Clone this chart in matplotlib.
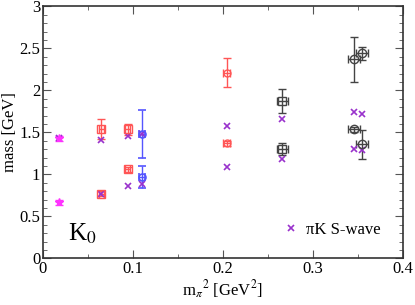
import matplotlib
matplotlib.use("Agg")
import matplotlib.pyplot as plt
from matplotlib.ticker import MultipleLocator, FuncFormatter

plt.rcParams['font.family'] = ['Liberation Serif', 'DejaVu Serif']
plt.rcParams['mathtext.fontset'] = 'stix'

# magenta stars
mag_x = [0.018, 0.018]
mag_y = [1.43, 0.67]
mag_e = [0.03, 0.03]

# red squares
rs_x = [0.065, 0.065, 0.094, 0.094]
rs_y = [1.54, 0.77, 1.535, 1.06]
rs_e = [0.12, 0.03, 0.07, 0.03]

# red circles
rc_x = [0.204, 0.204]
rc_y = [2.21, 1.37]
rc_e = [0.17, 0.03]

# blue circles
b_x = [0.11, 0.11]
b_y = [1.48, 0.97]
b_e = [0.29, 0.13]

# black squares
ks_x = [0.266, 0.266]
ks_y = [1.875, 1.30]
ks_e = [0.14, 0.07]
ks_xe = [0.0065, 0.0065]

# black circles
kc_x = [0.3455, 0.3455, 0.3548, 0.3548]
kc_y = [2.37, 1.536, 2.44, 1.357]
kc_e = [0.265, 0.03, 0.08, 0.17]
kc_xe = [0.0065, 0.0065, 0.0065, 0.0065]

# piK S-wave
pk_x = [0.018, 0.065, 0.065, 0.094, 0.094, 0.11, 0.11, 0.204, 0.204, 0.266, 0.266, 0.3455, 0.3455, 0.3548, 0.3548]
pk_y = [1.43, 1.41, 0.77, 1.456, 0.86, 1.48, 0.89, 1.58, 1.083, 1.655, 1.18, 1.74, 1.30, 1.72, 1.29]

fig = plt.figure(figsize=(4.15, 3.05), dpi=100)
ax = fig.add_axes([0.1036, 0.153, 0.8675, 0.826])

red = '#ff5555'
blue = '#5555ff'
mag = '#ff33ff'
blk = '#444444'
pur = '#9932cc'

ekw = dict(capsize=3, elinewidth=1.0, capthick=1.0, linestyle='none')
ax.errorbar(mag_x, mag_y, yerr=mag_e, fmt='*', ms=6, color=mag, mfc=mag, **ekw)
ax.errorbar(rs_x, rs_y, yerr=rs_e, xerr=0.003, fmt='s', ms=5.5, color=red, mfc='none', mew=1.0, **ekw)
ax.errorbar(rc_x, rc_y, yerr=rc_e, xerr=0.004, fmt='o', ms=5, color=red, mfc='none', mew=1.0, **ekw)
ax.errorbar(b_x, b_y, yerr=b_e, xerr=0.003, fmt='o', ms=5, color=blue, mfc='none', mew=1.2, **ekw)
ax.errorbar(ks_x, ks_y, yerr=ks_e, xerr=ks_xe, fmt='s', ms=5.5, color=blk, mfc='none', mew=1.0, **ekw)
ax.errorbar(kc_x, kc_y, yerr=kc_e, xerr=kc_xe, fmt='o', ms=6, color=blk, mfc='none', mew=1.0, **ekw)
ax.plot(pk_x, pk_y, 'x', ms=4.5, mew=1.2, color=pur, linestyle='none', label='πK S-wave')

ax.set_xlim(0, 0.4)
ax.set_ylim(0, 3)
ax.xaxis.set_major_locator(MultipleLocator(0.1))
ax.xaxis.set_minor_locator(MultipleLocator(0.05))
ax.yaxis.set_major_locator(MultipleLocator(0.5))
ax.yaxis.set_minor_locator(MultipleLocator(0.1))
fmt = FuncFormatter(lambda v, p: '0' if abs(v) < 1e-9 else ('%g' % round(v, 3)))
ax.xaxis.set_major_formatter(fmt)
ax.yaxis.set_major_formatter(fmt)
ax.tick_params(which='both', direction='in', top=True, right=True, labelsize=12, color='#555555', pad=2)
ax.tick_params(which='major', length=6)
ax.tick_params(which='minor', length=3)
for s in ax.spines.values():
    s.set_linewidth(1.2)
    s.set_color('#333333')

ax.set_xlabel(r'm$_\pi$$^2$ [GeV$^2$]', fontsize=12, labelpad=1)
ax.set_ylabel('mass [GeV]', fontsize=12, labelpad=1)
ax.text(0.028, 0.21, r'K$_0$', fontsize=18)
ax.legend(loc='lower right', frameon=False, fontsize=12, handletextpad=0.3,
          bbox_to_anchor=(0.98, 0.02), markerscale=1.0, handlelength=1.2)

fig.savefig('out.png', dpi=100)
